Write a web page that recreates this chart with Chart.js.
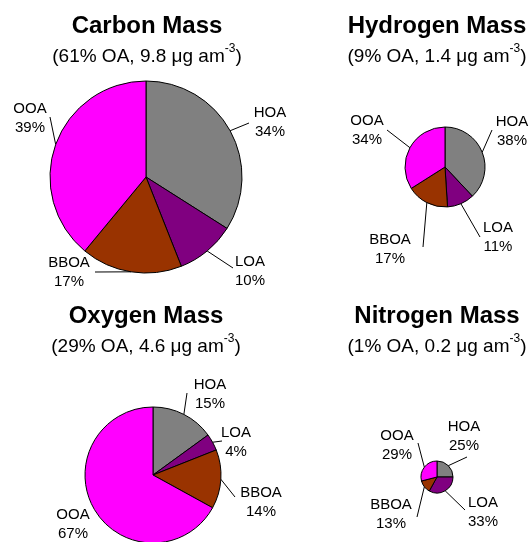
<!DOCTYPE html>
<html>
<head>
<meta charset="utf-8">
<script src="https://cdn.jsdelivr.net/npm/chart.js@4.4.1/dist/chart.umd.min.js"></script>
<style>
  body {
    margin: 0;
    width: 531px;
    height: 542px;
    overflow: hidden;
    position: relative;
    background: #fff;
    font-family: Arial, "Liberation Sans", sans-serif;
    color: #000;
  }
  canvas { position: absolute; left: 0; top: 0; }
  .ttl, .sub {
    position: absolute;
    width: 300px;
    text-align: center;
    line-height: 1;
    white-space: nowrap;
  }
  .ttl { font-size: 24px; font-weight: bold; }
  .sub { font-size: 19px; }
  .sub sup { font-size: 12px; line-height: 0; vertical-align: 10px; }
</style>
</head>
<body>
<canvas id="carbon" width="531" height="542"></canvas>
<canvas id="hydrogen" width="531" height="542"></canvas>
<canvas id="oxygen" width="531" height="542"></canvas>
<canvas id="nitrogen" width="531" height="542"></canvas>
<script>
// factor names, clockwise from 12 o'clock
const categories = ['HOA', 'LOA', 'BBOA', 'OOA'];
const sliceColors = ['#808080', '#800080', '#993300', '#FF00FF'];

// percent of each element's mass in each factor
const carbonValues = [34, 10, 17, 39];
const hydrogenValues = [38, 11, 17, 34];
const oxygenValues = [15, 4, 14, 67];
const nitrogenValues = [25, 33, 13, 29];

// headers
const elementNames = ['Carbon', 'Hydrogen', 'Oxygen', 'Nitrogen'];
const oaShare = [61, 9, 29, 1];          // % of OA
const massConc = ['9.8', '1.4', '4.6', '0.2']; // ug am-3

const W = 531, H = 542;

// where each pie sits, and where its labels / leader lines go (relative to pie centre)
const layout = {
  carbon: {
    cx: 146, cy: 177, r: 96, tx: 147, ty: 0,
    labels: [[124, -55], [104, 94], [-77, 95], [-116, -59]],
    leaders: [[103, -54], [87, 91], [-51, 95], [-96, -60]]
  },
  hydrogen: {
    cx: 445, cy: 167, r: 40, tx: 437, ty: 0,
    labels: [[67, -36], [53, 70], [-55, 82], [-78, -37]],
    leaders: [[47, -37], [35, 70], [-22, 80], [-58, -37]]
  },
  oxygen: {
    cx: 153, cy: 475, r: 68, tx: 146, ty: 290,
    labels: [[57, -81], [83, -33], [108, 27], [-80, 49]],
    leaders: [[34, -82], [69, -34], [82, 22], null]
  },
  nitrogen: {
    cx: 437, cy: 477, r: 16, tx: 437, ty: 290,
    labels: [[27, -41], [46, 35], [-46, 37], [-40, -32]],
    leaders: [[30, -20], [28, 33], [-20, 40], [-19, -34]]
  }
};

const sliceLabels = {
  id: 'sliceLabels',
  afterDatasetsDraw(chart, args, opts) {
    const ctx = chart.ctx;
    const meta = chart.getDatasetMeta(0);
    const values = chart.data.datasets[0].data;
    ctx.save();
    ctx.font = '15px Arial';
    ctx.fillStyle = '#000';
    ctx.strokeStyle = '#000';
    ctx.lineWidth = 1;
    ctx.textAlign = 'center';
    ctx.textBaseline = 'middle';
    meta.data.forEach((arc, i) => {
      const p = arc.getProps(['x', 'y', 'startAngle', 'endAngle', 'outerRadius'], true);
      const mid = (p.startAngle + p.endAngle) / 2;
      const lead = opts.leaders[i];
      if (lead) {
        ctx.beginPath();
        ctx.moveTo(p.x + Math.cos(mid) * p.outerRadius, p.y + Math.sin(mid) * p.outerRadius);
        ctx.lineTo(p.x + lead[0], p.y + lead[1]);
        ctx.stroke();
      }
      const lx = p.x + opts.labels[i][0];
      const ly = p.y + opts.labels[i][1];
      ctx.fillText(chart.data.labels[i], lx, ly - 9.5);
      ctx.fillText(values[i] + '%', lx, ly + 9.5);
    });
    ctx.restore();
  }
};

function makePie(id, values, idx) {
  const L = layout[id];
  // pad the chart area so that its centre lands on the pie centre
  const padding = {
    left: Math.max(0, 2 * L.cx - W),
    right: Math.max(0, W - 2 * L.cx),
    top: Math.max(0, 2 * L.cy - H),
    bottom: Math.max(0, H - 2 * L.cy)
  };
  new Chart(document.getElementById(id), {
    type: 'pie',
    data: {
      labels: categories,
      datasets: [{
        data: values,
        backgroundColor: sliceColors,
        borderColor: '#000',
        borderWidth: 1,
        radius: L.r
      }]
    },
    options: {
      responsive: false,
      animation: false,
      events: [],
      layout: { padding: padding },
      plugins: {
        legend: { display: false },
        tooltip: { enabled: false },
        sliceLabels: { labels: L.labels, leaders: L.leaders }
      }
    },
    plugins: [sliceLabels]
  });

  // header text
  const t = document.createElement('div');
  t.className = 'ttl';
  t.style.left = (L.tx - 150) + 'px';
  t.style.top = (L.ty + 13) + 'px';
  t.textContent = elementNames[idx] + ' Mass';
  document.body.appendChild(t);

  const s = document.createElement('div');
  s.className = 'sub';
  s.style.left = (L.tx - 150) + 'px';
  s.style.top = (L.ty + 46) + 'px';
  s.innerHTML = '(' + oaShare[idx] + '% OA, ' + massConc[idx] + ' \u03bcg am<sup>-3</sup>)';
  document.body.appendChild(s);
}

makePie('carbon', carbonValues, 0);
makePie('hydrogen', hydrogenValues, 1);
makePie('oxygen', oxygenValues, 2);
makePie('nitrogen', nitrogenValues, 3);
</script>
</body>
</html>
